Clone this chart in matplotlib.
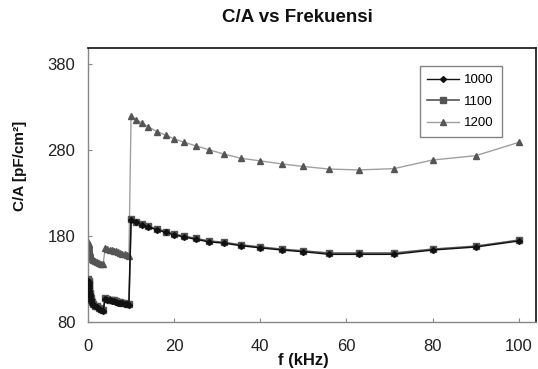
import matplotlib
matplotlib.use('Agg')
import matplotlib.pyplot as plt

plt.rcParams['font.family'] = ['Liberation Sans', 'DejaVu Sans']

# frequency (kHz): low range, mid range, high range
f_low = [0.1, 0.125, 0.16, 0.2, 0.25, 0.315, 0.4, 0.5, 0.63, 0.8, 1.0, 1.25, 1.6, 2.0, 2.5, 3.0, 3.5]
f_mid = [4.0, 4.5, 5.0, 5.5, 6.0, 6.5, 7.0, 7.5, 8.0, 8.5, 9.0, 9.5]
f_high = [10, 11.2, 12.5, 14, 16, 18, 20, 22.4, 25, 28, 31.5, 35.5, 40, 45, 50, 56, 63, 71, 80, 90, 100]

# C/A (pF/cm^2)
ca_1000 = ([128, 126, 124, 122, 119, 116, 113, 110, 107, 104, 102, 100, 98, 97, 95, 94, 93]
           + [107, 106, 105, 104.5, 104, 103, 102.5, 102, 101.5, 101, 100.5, 100]
           + [198.5, 195.5, 193, 190, 187, 184, 181, 178.5, 176, 173, 171.5, 168.5,
              166, 163.5, 161.5, 158.5, 158.5, 158.5, 163.5, 167, 174])
ca_1100 = ([130, 128, 126, 123, 120, 117, 114, 111, 108, 105, 103, 101, 99, 98, 96, 95, 94]
           + [108, 107, 106, 105.5, 105, 104, 103.5, 103, 102.5, 102, 101, 100.5]
           + [199.5, 196.5, 194, 191, 188, 185, 182, 179.5, 177, 174, 172.5, 169.5,
              167, 164.5, 162.5, 160, 160, 160, 164.5, 168, 175])
ca_1200 = ([173, 171, 169, 167, 165, 163, 161, 159, 157, 155, 153.5, 152, 150.5, 149.5, 148.5, 147.5, 147]
           + [166, 165, 164, 163, 162.5, 162, 161, 160, 159.5, 159, 158, 157]
           + [319.5, 315, 311, 306.5, 301, 297, 292.5, 288.5, 284.5, 280, 275, 270,
              267, 263.5, 260.5, 257.5, 256.5, 258, 268, 273, 288.5])

freq = f_low + f_mid + f_high

fig = plt.figure(figsize=(5.38, 3.69), dpi=100)
ax = fig.add_axes([88 / 538, 1 - 322 / 369, 448 / 538, 274 / 369])

ax.plot(freq, ca_1200, color='#a0a0a0', lw=1.0, marker='^', ms=4.5,
        mfc='#555555', mec='#555555', label='1200', zorder=2)
ax.plot(freq, ca_1100, color='#555555', lw=1.2, marker='s', ms=4,
        mfc='#555555', mec='#555555', label='1100', zorder=3)
ax.plot(freq, ca_1000, color='#111111', lw=1.0, marker='D', ms=3,
        mfc='#111111', mec='#111111', label='1000', zorder=4)

ax.set_xlim(0, 104)
ax.set_ylim(80, 398)
ax.set_xticks([0, 20, 40, 60, 80, 100])
ax.set_yticks([80, 180, 280, 380])
ax.tick_params(axis='both', direction='in', length=3, labelsize=12,
               colors='#888888', labelcolor='#222222')
ax.tick_params(axis='x', pad=12)
ax.tick_params(axis='y', pad=9)

for side in ['left', 'bottom']:
    ax.spines[side].set_color('#888888')
    ax.spines[side].set_linewidth(1.0)
for side in ['top', 'right']:
    ax.spines[side].set_color('#111111')
    ax.spines[side].set_linewidth(1.2)

handles, labels = ax.get_legend_handles_labels()
leg = ax.legend(handles[::-1], labels[::-1], loc='upper right',
                bbox_to_anchor=(0.924, 0.934), borderaxespad=0, fontsize=9.5,
                frameon=True, fancybox=False, edgecolor='#666666',
                handlelength=2.4, borderpad=0.6, labelspacing=0.7,
                handletextpad=0.4)
leg.get_frame().set_linewidth(1.0)

fig.text(297 / 538, 1 - 18 / 369, 'C/A vs Frekuensi', ha='center', va='center',
         fontsize=13.5, fontweight='bold', color='#111111')
fig.text(20 / 538, 1 - 166 / 369, 'C/A [pF/cm²]', ha='center', va='center',
         rotation=90, fontsize=11, fontweight='bold', color='#111111')
fig.text(303 / 538, 1 - 360 / 369, 'f (kHz)', ha='center', va='center',
         fontsize=12, fontweight='bold', color='#111111')

fig.savefig('out.png', dpi=100)
